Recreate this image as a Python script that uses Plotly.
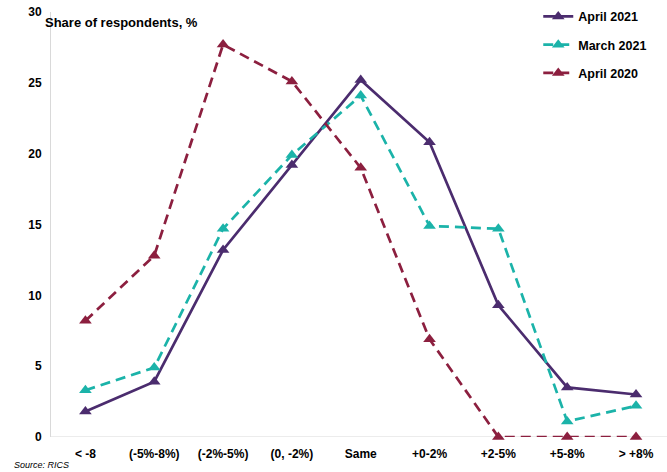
import plotly.graph_objects as go

categories = ["< -8", "(-5%-8%)", "(-2%-5%)", "(0, -2%)", "Same", "+0-2%", "+2-5%", "+5-8%", "> +8%"]
april_2021 = [1.8, 3.9, 13.2, 19.2, 25.2, 20.8, 9.3, 3.5, 3.0]
march_2021 = [3.3, 4.9, 14.7, 19.9, 24.1, 14.9, 14.7, 1.1, 2.2]
april_2020 = [8.2, 12.8, 27.7, 25.1, 19.0, 6.9, 0.0, 0.0, 0.0]
y_ticks = [0, 5, 10, 15, 20, 25, 30]

series = [
    ("April 2021", april_2021, "#4B2C6E", "solid"),
    ("March 2021", march_2021, "#1BB3A9", "10px,6px"),
    ("April 2020", april_2020, "#8C1F3F", "10px,6px"),
]

fig = go.Figure()
for i, (name, vals, color, dash) in enumerate(series):
    fig.add_trace(go.Scatter(
        x=list(range(len(categories))), y=vals, name=name, mode="lines+markers",
        legendgroup=f"g{i}",
        line=dict(color=color, width=2.7, dash=dash),
        marker=dict(symbol="triangle-up", size=11, color=color),
        cliponaxis=False,
    ))

font_main = "Liberation Sans, Arial, sans-serif"
fig.update_layout(
    width=667, height=472,
    margin=dict(l=51, r=0, t=12, b=35),
    paper_bgcolor="white", plot_bgcolor="white",
    font=dict(family=font_main, size=12, color="black"),
    showlegend=True,
    legend=dict(x=0.791, y=1.024, xanchor="left", yanchor="top",
                font=dict(family=font_main, size=12.5, color="black", weight="bold"),
                bgcolor="rgba(0,0,0,0)", itemwidth=30, tracegroupgap=9,
                traceorder="grouped"),
    xaxis=dict(
        range=[-0.5, 8.45],
        tickmode="array", tickvals=list(range(len(categories))), ticktext=categories,
        showgrid=False, zeroline=False, showline=False, ticks="",
        ticklabelstandoff=8,
        tickfont=dict(family=font_main, size=12, color="black", weight="bold"),
    ),
    yaxis=dict(
        range=[0, 30], tickmode="array", tickvals=y_ticks,
        showgrid=False, zeroline=False, showline=True, linecolor="#D9D9D9", linewidth=1,
        ticks="", ticklen=0, ticklabelstandoff=6,
        tickfont=dict(family=font_main, size=12, color="black", weight="bold"),
    ),
    shapes=[dict(type="line", xref="paper", yref="y", x0=0, x1=1, y0=0, y1=0,
                 line=dict(color="#D9D9D9", width=1), layer="below")],
    annotations=[
        dict(text="Share of respondents, %", xref="paper", yref="paper", x=-0.013, y=0.998,
             xanchor="left", yanchor="top", showarrow=False,
             font=dict(family=font_main, size=13, color="black", weight="bold")),
        dict(text="<i>Source: RICS</i>", xref="paper", yref="paper", x=-0.063, y=-0.082,
             xanchor="left", yanchor="bottom", showarrow=False,
             font=dict(family=font_main, size=9, color="black")),
    ],
)

fig.write_html("out.html")
